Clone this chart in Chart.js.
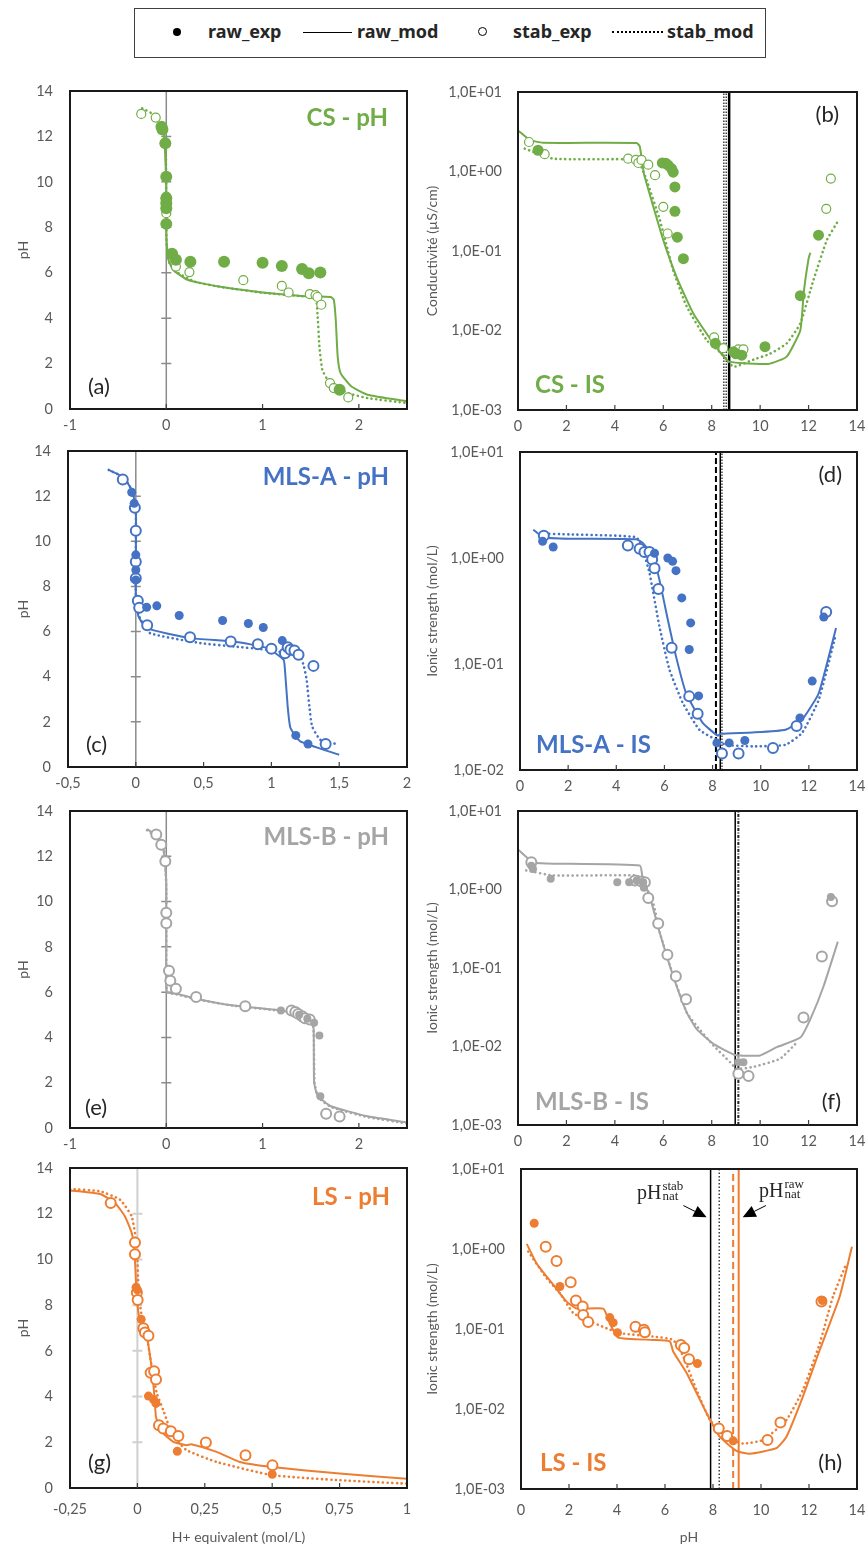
<!DOCTYPE html>
<html>
<head>
<meta charset="utf-8">
<script src="https://cdn.jsdelivr.net/npm/chart.js@4.4.1/dist/chart.umd.min.js"></script>
<style>
  body { margin: 0; background: #fff; width: 868px; height: 1546px; position: relative; overflow: hidden; }
  canvas { position: absolute; }
  #legend { position: absolute; left: 134px; top: 8px; width: 632px; height: 50px; box-sizing: border-box;
            border: 1.5px solid #404040; font-family: "Noto Sans", sans-serif; font-weight: bold; font-size: 18px; color: #262626; }
  #legend span { position: absolute; }
  #legend .txt { top: 10px; line-height: 24px; }
  .dot { left: 38px; top: 19px; width: 8px; height: 8px; border-radius: 50%; background: #000; }
  .ring { left: 343px; top: 18px; width: 7px; height: 7px; border-radius: 50%; border: 1.5px solid #000; }
  .solid { left: 168px; top: 23px; width: 49px; border-top: 1.5px solid #000; }
  .dots { left: 477px; top: 22px; width: 51px; border-top: 2px dotted #000; }
</style>
</head>
<body>
<div id="legend">
  <span class="dot"></span><span class="txt" style="left:73px">raw_exp</span>
  <span class="solid"></span><span class="txt" style="left:222px">raw_mod</span>
  <span class="ring"></span><span class="txt" style="left:378px">stab_exp</span>
  <span class="dots"></span><span class="txt" style="left:532px">stab_mod</span>
</div>
<script>
const GREEN = '#70AD47', BLUE = '#4472C4', GREY = '#A5A5A5', ORANGE = '#ED7D31';

// tick values
const phTicks = [0, 2, 4, 6, 8, 10, 12, 14];
const pHxTicks = [0, 2, 4, 6, 8, 10, 12, 14];
const logTicks3 = [1e-3, 1e-2, 1e-1, 1, 10];
const logTicks2 = [1e-2, 1e-1, 1, 10];
const csXTicks = [-1, 0, 1, 2];
const mlsaXTicks = [-0.5, 0, 0.5, 1, 1.5, 2];
const mlsbXTicks = [-1, 0, 1, 2];
const lsXTicks = [-0.25, 0, 0.25, 0.5, 0.75, 1];

// (a) CS - pH : [H+ equivalent, pH]
const aRawExp = [[-0.05,12.43],[-0.04,12.3],[-0.01,11.7],[0,10.23],[0,9.28],[0,9.06],[0,8.84],[0,8.15],[0.06,6.83],[0.10,6.57],[0.25,6.48],[0.60,6.48],[1.0,6.44],[1.2,6.3],[1.41,6.16],[1.48,5.98],[1.60,6.01],[1.80,0.85]];
const aStabExp = [[-0.26,12.99],[-0.11,12.83],[0,9.35],[0,8.62],[0.10,6.27],[0.24,6.03],[0.80,5.67],[1.20,5.42],[1.27,5.13],[1.49,5.06],[1.55,5.01],[1.57,4.93],[1.61,4.59],[1.70,1.14],[1.74,0.92],[1.89,0.51]];
const aRawMod = [[-0.04,12.5],[-0.02,12],[-0.01,11],[0,10],[0,8],[0.005,7.3],[0.02,6.6],[0.07,6.13],[0.22,5.69],[0.53,5.40],[1.0,5.13],[1.4,4.98],[1.71,4.93],[1.74,4.81],[1.76,3.93],[1.78,2.32],[1.81,1.58],[1.92,1.0],[2.09,0.63],[2.5,0.34]];
const aStabMod = [[-0.25,13.24],[-0.13,12.95],[-0.03,12.2],[-0.005,11.55],[0,8],[0.005,7.2],[0.03,6.45],[0.1,6.05],[0.3,5.6],[0.6,5.35],[1.0,5.12],[1.4,4.97],[1.55,4.88],[1.57,4.22],[1.59,2.76],[1.62,1.73],[1.68,1.25],[1.74,1.0],[1.9,0.68],[2.09,0.48],[2.5,0.26]];

// (b) CS - IS : [pH, conductivity]
const bRawExp = [[0.83,1.85],[5.96,1.28],[6.1,1.27],[6.2,1.2],[6.34,1.09],[6.41,0.98],[6.48,0.64],[6.48,0.316],[6.58,0.149],[6.83,0.08],[8.15,0.0069],[8.9,0.0054],[9.0,0.0051],[9.24,0.0049],[10.2,0.00625],[11.66,0.0274],[12.41,0.158]];
const bStabExp = [[0.455,2.35],[1.1,1.65],[4.55,1.45],[4.87,1.4],[4.97,1.28],[5.1,1.4],[5.38,1.22],[5.66,0.9],[6.0,0.359],[6.18,0.166],[8.1,0.0082],[8.48,0.006],[9.1,0.0058],[9.31,0.0058],[12.73,0.339],[12.92,0.815]];
const bRawMod = [[0.03,3.24],[0.48,2.5],[1.03,2.3],[4.9,2.28],[5.03,2.07],[5.2,0.94],[5.59,0.36],[6.0,0.137],[6.55,0.047],[7.24,0.0164],[8.07,0.0069],[8.69,0.0041],[9.17,0.0039],[10.34,0.0038],[11.1,0.0047],[11.66,0.0101],[11.8,0.03],[12.0,0.08],[12.07,0.095]];
const bStabMod = [[0.28,1.94],[1.45,1.45],[4.76,1.42],[5.03,1.26],[5.31,0.78],[5.86,0.245],[6.41,0.057],[6.97,0.02],[7.79,0.0076],[8.41,0.0051],[8.9,0.0035],[9.72,0.0043],[10.41,0.0051],[11.1,0.0069],[11.66,0.0123],[12.2,0.043],[12.76,0.138],[13.24,0.245]];
const bNat = [8.5, 8.6, 8.72];

// (c) MLS-A - pH
const cRawExp = [[-0.03,12.17],[-0.012,11.68],[0,9.4],[0,8.73],[0,8.29],[0.08,7.08],[0.155,7.14],[0.32,6.71],[0.64,6.49],[0.83,6.36],[0.94,6.18],[1.08,5.6],[1.18,1.40],[1.27,1.02]];
const cStabExp = [[-0.096,12.74],[-0.007,11.49],[0,10.47],[0,9.09],[0,8.36],[0.015,7.37],[0.025,7.05],[0.084,6.28],[0.40,5.75],[0.70,5.56],[0.90,5.44],[1.0,5.24],[1.10,5.04],[1.12,5.31],[1.14,5.19],[1.17,5.16],[1.20,4.97],[1.31,4.48],[1.40,1.02]];
const cRawMod = [[-0.2,13.16],[-0.09,12.83],[-0.03,12.27],[0,11.5],[0,7.55],[0.02,6.67],[0.08,6.15],[0.40,5.71],[0.72,5.56],[0.97,5.27],[1.09,4.75],[1.10,4.31],[1.12,2.68],[1.14,1.74],[1.21,1.15],[1.5,0.54]];
const cStabMod = [[-0.2,13.16],[-0.09,12.83],[-0.03,12.27],[0,11.5],[0,7.6],[0.03,6.6],[0.106,5.93],[0.475,5.49],[0.72,5.34],[0.97,5.19],[1.21,4.9],[1.24,4.45],[1.26,3.86],[1.28,2.68],[1.30,1.8],[1.36,1.21],[1.47,1.03]];

// (d) MLS-A - IS
const dRawExp = [[0.94,1.44],[1.38,1.27],[5.59,1.11],[6.14,1.0],[6.34,0.93],[6.48,0.76],[6.72,0.42],[7.09,0.244],[7.03,0.137],[7.42,0.05],[8.18,0.018],[8.69,0.018],[9.34,0.019],[11.63,0.031],[12.14,0.069],[12.62,0.277]];
const dStabExp = [[0.99,1.62],[4.48,1.31],[4.97,1.22],[5.17,1.14],[5.38,1.14],[5.49,0.97],[5.59,0.80],[5.75,0.51],[6.3,0.142],[7.03,0.0495],[7.38,0.034],[8.39,0.0143],[9.08,0.0143],[10.51,0.0161],[11.49,0.026],[12.72,0.31]];
const dRawMod = [[0.55,1.85],[0.97,1.57],[2.07,1.52],[4.83,1.5],[5.1,1.39],[5.52,1.04],[5.79,0.625],[6.14,0.263],[6.48,0.118],[6.9,0.053],[7.59,0.0278],[8.21,0.0211],[8.34,0.022],[9.66,0.0226],[11.03,0.024],[11.72,0.030],[12.41,0.053],[13.13,0.219]];
const dStabMod = [[0.83,1.7],[2.07,1.67],[4.83,1.57],[5.1,1.2],[5.38,0.72],[5.79,0.227],[6.21,0.0885],[6.76,0.043],[7.45,0.024],[8.14,0.0193],[8.55,0.0173],[9.66,0.0167],[11.03,0.0173],[11.72,0.0224],[12.41,0.046],[13.1,0.182]];
const dNat = [8.14, 8.32, 8.39];

// (e) MLS-B - pH
const eRawExp = [[1.19,5.19],[1.38,5.0],[1.465,4.82],[1.535,4.65],[1.59,4.09],[1.60,1.40]];
const eStabExp = [[-0.104,12.96],[-0.052,12.51],[-0.01,11.78],[0,9.51],[0,9.04],[0.028,6.94],[0.042,6.5],[0.10,6.15],[0.31,5.79],[0.82,5.38],[1.30,5.19],[1.34,5.12],[1.37,5.04],[1.41,4.94],[1.44,4.85],[1.49,4.79],[1.66,0.63],[1.80,0.51]];
const eRawMod = [[-0.2,13.2],[-0.1,12.9],[-0.03,12.3],[0,10.85],[0,7.1],[0.007,6.0],[0.11,5.93],[0.32,5.7],[0.70,5.41],[1.19,5.19],[1.5,4.9],[1.53,4.38],[1.535,2.03],[1.57,1.44],[1.71,0.96],[2.09,0.52],[2.5,0.25]];
const eStabMod = [[-0.2,13.15],[-0.1,12.85],[-0.02,12.2],[0,10.5],[0,7.0],[0.01,6.0],[0.11,5.9],[0.32,5.68],[0.70,5.4],[1.19,5.17],[1.5,4.88],[1.53,4.3],[1.54,2.0],[1.58,1.35],[1.71,0.93],[2.09,0.48],[2.5,0.2]];

// (f) MLS-B - IS
const fRawExp = [[0.55,2.0],[0.62,1.83],[1.35,1.37],[4.1,1.24],[4.59,1.24],[4.9,1.3],[5.17,1.24],[5.2,1.05],[9.1,0.0063],[9.31,0.0063],[12.92,0.8]];
const fStabExp = [[0.55,2.22],[4.83,1.3],[5.1,1.26],[5.24,1.24],[5.38,0.78],[5.79,0.37],[6.17,0.148],[6.52,0.0785],[6.94,0.04],[9.1,0.0045],[9.52,0.0042],[11.79,0.0234],[12.55,0.14],[12.97,0.71]];
const fRawMod = [[0.03,3.18],[0.62,2.22],[1.17,2.15],[5.03,2.02],[5.14,1.44],[5.45,0.8],[5.86,0.277],[6.41,0.0785],[6.97,0.027],[7.38,0.0166],[8.07,0.0108],[8.97,0.0078],[10.0,0.0077],[10.69,0.0098],[11.66,0.013],[12.07,0.0222],[12.62,0.0586],[13.21,0.217]];
const fStabMod = [[0.34,1.75],[1.45,1.51],[4.9,1.51],[5.17,1.3],[5.59,0.66],[5.86,0.28],[6.41,0.08],[6.97,0.027],[7.38,0.0183],[8.07,0.0103],[8.76,0.0063],[9.03,0.0052],[9.72,0.0055],[10.83,0.0070],[11.52,0.0113]];
const fNat = [8.97, 9.1];

// (g) LS - pH
const gRawExp = [[-0.005,8.78],[0,8.67],[0.014,7.38],[0.041,4.02],[0.06,3.87],[0.069,3.70],[0.148,1.61],[0.50,0.60]];
const gStabExp = [[-0.099,12.47],[-0.009,10.74],[-0.009,10.23],[-0.002,8.55],[0.001,8.23],[0.022,6.99],[0.028,6.8],[0.041,6.66],[0.049,5.04],[0.062,5.11],[0.069,4.75],[0.08,2.75],[0.096,2.6],[0.124,2.48],[0.152,2.27],[0.254,1.99],[0.401,1.43],[0.501,0.99]];
const gRawMod = [[-0.25,13.02],[-0.138,12.86],[-0.083,12.47],[-0.046,11.88],[-0.021,11.15],[-0.011,10.42],[-0.005,8.96],[0.004,7.64],[0.022,7.06],[0.035,6.62],[0.049,5.6],[0.059,4.57],[0.065,3.70],[0.069,3.11],[0.09,2.46],[0.133,2.02],[0.183,1.87],[0.20,1.91],[0.294,1.58],[0.38,1.14],[0.50,0.92],[0.75,0.63],[1.0,0.41]];
const gStabMod = [[-0.25,13.08],[-0.138,12.98],[-0.064,12.61],[-0.021,11.88],[-0.002,10.57],[0.004,8.67],[0.016,7.5],[0.035,6.62],[0.053,5.3],[0.072,4.14],[0.096,3.40],[0.109,2.97],[0.121,2.53],[0.146,2.09],[0.183,1.65],[0.294,1.14],[0.50,0.56],[0.75,0.34],[1.0,0.19]];

// (h) LS - IS
const hRawExp = [[0.55,2.1],[1.62,0.34],[3.70,0.139],[3.84,0.12],[4.02,0.09],[7.35,0.037],[8.84,0.004],[12.56,0.227]];
const hStabExp = [[1.03,1.07],[1.48,0.71],[2.07,0.385],[2.29,0.227],[2.57,0.191],[2.59,0.15],[2.80,0.122],[4.77,0.107],[5.12,0.098],[5.16,0.091],[6.66,0.063],[6.80,0.058],[7.0,0.042],[8.24,0.0057],[8.59,0.0046],[10.27,0.0041],[10.81,0.0068],[12.52,0.22]];
const hRawMod = [[0.24,1.16],[0.65,0.66],[1.35,0.356],[1.9,0.22],[2.32,0.18],[3.43,0.18],[3.70,0.118],[4.05,0.078],[5.51,0.073],[6.2,0.07],[6.34,0.0524],[6.9,0.0282],[7.73,0.0089],[8.28,0.0045],[8.98,0.0030],[9.53,0.00276],[10.64,0.00325],[11.06,0.0045],[11.75,0.0144],[12.45,0.055],[13.28,0.255],[13.79,1.07]];
const hStabMod = [[0.3,0.93],[1.07,0.43],[1.62,0.28],[2.18,0.158],[2.73,0.13],[3.57,0.102],[4.12,0.0887],[5.51,0.0805],[6.34,0.073],[6.76,0.0454],[7.31,0.0174],[7.87,0.0073],[8.56,0.0045],[9.25,0.0037],[10.09,0.0041],[11.06,0.0073],[11.75,0.0174],[12.45,0.0665],[13.0,0.255],[13.56,0.66]];
const hNat = [7.9, 8.26, 8.84, 9.07];

const TICK_FONT = { family: 'Lato, sans-serif', size: 14.5 };
const TITLE_FONT = { family: 'Lato, sans-serif', size: 14 };
const SERIF = '"Liberation Serif", serif';
const panels = {};

const pts = arr => arr.map(([x, y]) => ({ x, y }));
const fmtNum = v => String(v).replace('.', ',');
const fmtExp = v => {
    const e = Math.round(Math.log10(v));
    return '1,0E' + (e < 0 ? '-' : '+') + String(Math.abs(e)).padStart(2, '0');
};

const panelPlugin = {
    id: 'panel',
    beforeDatasetsDraw(chart) {
        const o = panels[chart.canvas.id];
        if (!o.zeroAxis) return;
        const { ctx, chartArea: a, scales: { x, y } } = chart;
        const zx = x.getPixelForValue(0);
        ctx.save();
        ctx.strokeStyle = o.zeroAxis;
        ctx.lineWidth = o.zeroWidth;
        ctx.beginPath();
        ctx.moveTo(zx, a.top);
        ctx.lineTo(zx, a.bottom);
        phTicks.slice(1, -1).forEach(v => {
            const py = y.getPixelForValue(v);
            ctx.moveTo(zx - 5, py);
            ctx.lineTo(zx + 5, py);
        });
        ctx.stroke();
        ctx.restore();
    },
    afterDatasetsDraw(chart) {
        const o = panels[chart.canvas.id];
        const { ctx, chartArea: a, scales: { x, y } } = chart;
        ctx.save();
        // frame
        ctx.strokeStyle = '#1a1a1a';
        ctx.lineWidth = 2;
        ctx.strokeRect(a.left, a.top, a.right - a.left, a.bottom - a.top);
        // inner ticks on x axis
        ctx.lineWidth = 1.2;
        ctx.strokeStyle = '#404040';
        ctx.beginPath();
        o.xTicks.forEach(v => {
            const px = x.getPixelForValue(v);
            if (px <= a.left + 1 || px >= a.right - 1) return;
            ctx.moveTo(px, a.bottom);
            ctx.lineTo(px, a.bottom - 5);
        });
        ctx.stroke();
        // panel texts
        o.texts.forEach(t => {
            ctx.font = (t.bold ? 'bold ' : '') + t.size + 'px Lato, sans-serif';
            ctx.fillStyle = t.color;
            ctx.textAlign = t.align;
            ctx.textBaseline = 'middle';
            const tx = t.ax ? a.right + t.dx : a.left + t.dx;
            const ty = t.ay ? a.bottom + t.dy : a.top + t.dy;
            ctx.fillText(t.text, tx, ty);
        });
        // pH_nat annotations
        (o.annot || []).forEach(n => {
            const s = n.side;
            const tip = { x: x.getPixelForValue(n.x) + s * 4, y: y.getPixelForValue(n.y) };
            const len = Math.hypot(1, 0.5);
            const ux = -s / len, uy = 0.5 / len;
            const base = { x: tip.x - ux * 13, y: tip.y - uy * 13 };
            const tail = { x: base.x - ux * 13, y: base.y - uy * 13 };
            ctx.fillStyle = '#000';
            ctx.strokeStyle = '#000';
            ctx.lineWidth = 1;
            ctx.beginPath();
            ctx.moveTo(tail.x, tail.y);
            ctx.lineTo(base.x, base.y);
            ctx.stroke();
            ctx.beginPath();
            ctx.moveTo(tip.x, tip.y);
            ctx.lineTo(base.x + uy * 6, base.y - ux * 6);
            ctx.lineTo(base.x - uy * 6, base.y + ux * 6);
            ctx.closePath();
            ctx.fill();
            ctx.textAlign = 'left';
            ctx.textBaseline = 'alphabetic';
            ctx.fillStyle = '#262626';
            ctx.font = '20px ' + SERIF;
            const wPH = ctx.measureText('pH').width;
            ctx.font = '13px ' + SERIF;
            const wS = Math.max(ctx.measureText(n.sup).width, ctx.measureText('nat').width);
            let left, base0;
            if (s < 0) { left = tail.x - 1 - wPH - wS; base0 = tail.y - 7; }
            else { left = tail.x - 7; base0 = tail.y - 9; }
            ctx.font = '20px ' + SERIF;
            ctx.fillText('pH', left, base0);
            ctx.font = '13px ' + SERIF;
            ctx.fillText(n.sup, left + wPH + 1, base0 - 9);
            ctx.fillText('nat', left + wPH + 1, base0 + 1);
        });
        ctx.restore();
    }
};

function makePanel(id, box, o) {
    const left = box.l < 430 ? 0 : 418;
    const yw = box.l - left;
    const pt = 14, pr = 11;
    const xh = o.xTitle ? 1546 - box.b : 32;
    const cv = document.createElement('canvas');
    cv.id = id;
    cv.width = box.r - left + pr;
    cv.height = box.b - box.t + pt + xh;
    cv.style.left = left + 'px';
    cv.style.top = (box.t - pt) + 'px';
    document.body.appendChild(cv);
    panels[id] = o;

    const datasets = [];
    o.vlines.forEach(v => datasets.push({
        data: [{ x: v.x, y: o.yMin }, { x: v.x, y: o.yMax }],
        showLine: true, borderColor: v.color, borderWidth: v.width,
        borderDash: v.dash || [], pointRadius: 0, order: 6
    }));
    datasets.push({
        label: 'raw_mod', data: pts(o.rawMod), showLine: true, borderColor: o.color,
        borderWidth: 2, pointRadius: 0, tension: 0.15, order: 4
    });
    datasets.push({
        label: 'stab_mod', data: pts(o.stabMod), showLine: true, borderColor: o.color,
        borderWidth: 2.6, borderDash: [0.1, 4.6], borderCapStyle: 'round', pointRadius: 0, tension: 0.15, order: 3
    });
    datasets.push({
        label: 'stab_exp', data: pts(o.stabExp), pointRadius: o.stabR, pointBackgroundColor: '#fff',
        pointBorderColor: o.color, pointBorderWidth: o.stabBW, order: 2
    });
    datasets.push({
        label: 'raw_exp', data: pts(o.rawExp), pointRadius: o.rawR, pointBackgroundColor: o.color,
        pointBorderColor: o.color, pointBorderWidth: 0, order: 1
    });

    new Chart(cv, {
        type: 'scatter',
        data: { datasets },
        options: {
            responsive: false,
            animation: false,
            devicePixelRatio: 1,
            layout: { padding: { left: 0, top: pt, right: pr, bottom: 0 } },
            plugins: { legend: { display: false }, tooltip: { enabled: false } },
            scales: {
                x: {
                    type: 'linear', position: 'bottom', min: o.xMin, max: o.xMax,
                    afterBuildTicks: s => { s.ticks = o.xTicks.map(v => ({ value: v })); },
                    afterFit: s => { s.height = xh; s.paddingLeft = 0; s.paddingRight = 0; },
                    grid: { display: false, drawTicks: false },
                    border: { display: false },
                    ticks: { padding: o.xTitle ? 13 : 8, font: TICK_FONT, color: '#595959', maxRotation: 0, autoSkip: false, callback: v => fmtNum(v) },
                    title: o.xTitle
                        ? { display: true, text: o.xTitle, font: TITLE_FONT, color: '#595959', padding: { top: 0, bottom: 0 } }
                        : { display: false }
                },
                y: {
                    type: o.yLog ? 'logarithmic' : 'linear', min: o.yMin, max: o.yMax,
                    afterBuildTicks: s => { s.ticks = o.yTicks.map(v => ({ value: v })); },
                    afterFit: s => { s.width = yw; s.paddingTop = 0; s.paddingBottom = 0; },
                    grid: { display: false, drawTicks: false },
                    border: { display: false },
                    ticks: { padding: left === 0 ? 17 : 16, font: TICK_FONT, color: '#595959', autoSkip: false,
                             callback: v => o.yLog ? fmtExp(v) : String(v) },
                    title: { display: true, text: o.yTitle, font: TITLE_FONT, color: '#595959',
                             padding: { top: left === 0 ? 15 : 6, bottom: 0 } }
                }
            }
        },
        plugins: [panelPlugin]
    });
}

const phPanel = (color, xMin, xMax, xTicks, rawExp, stabExp, rawMod, stabMod, extra) => Object.assign({
    color, xMin, xMax, xTicks, yMin: 0, yMax: 14, yTicks: phTicks, yLog: false, yTitle: 'pH',
    rawExp, stabExp, rawMod, stabMod, vlines: [], zeroAxis: '#8c8c8c', zeroWidth: 1.5,
    rawR: 4.5, stabR: 5, stabBW: 2
}, extra);

const isPanel = (color, yMin, yTicks, yTitle, rawExp, stabExp, rawMod, stabMod, extra) => Object.assign({
    color, xMin: 0, xMax: 14, xTicks: pHxTicks, yMin, yMax: 10, yTicks, yLog: true, yTitle,
    rawExp, stabExp, rawMod, stabMod, vlines: [], rawR: 4.5, stabR: 5, stabBW: 2
}, extra);

const txt = (text, color, bold, size, ax, dx, ay, dy, align) => ({ text, color, bold, size, ax, dx, ay, dy, align });

makePanel('a', { l: 70, t: 91, r: 407, b: 409 }, phPanel(GREEN, -1, 2.5, csXTicks, aRawExp, aStabExp, aRawMod, aStabMod, {
    rawR: 6, stabR: 4.5, stabBW: 1.2,
    texts: [txt('CS - pH', GREEN, true, 24, 1, -19, 0, 27, 'right'), txt('(a)', '#262626', false, 22, 0, 18, 1, -22, 'left')]
}));
makePanel('b', { l: 518, t: 92, r: 857, b: 410 }, isPanel(GREEN, 1e-3, logTicks3, 'Conductivité (µS/cm)', bRawExp, bStabExp, bRawMod, bStabMod, {
    rawR: 5.5, stabR: 4.5, stabBW: 1.2,
    vlines: [{ x: bNat[0], color: '#404040', width: 1.5, dash: [1.5, 1.5] }, { x: bNat[1], color: '#404040', width: 1.5, dash: [1.5, 1.5] }, { x: bNat[2], color: '#000', width: 2.5 }],
    texts: [txt('(b)', '#262626', false, 22, 1, -18, 0, 23, 'right'), txt('CS - IS', GREEN, true, 24, 0, 17, 1, -25, 'left')]
}));
makePanel('c', { l: 68, t: 451, r: 407, b: 767 }, phPanel(BLUE, -0.5, 2, mlsaXTicks, cRawExp, cStabExp, cRawMod, cStabMod, {
    texts: [txt('MLS-A - pH', BLUE, true, 24, 1, -18, 0, 26, 'right'), txt('(c)', '#262626', false, 22, 0, 18, 1, -22, 'left')]
}));
makePanel('d', { l: 520, t: 452, r: 857, b: 770 }, isPanel(BLUE, 1e-2, logTicks2, 'Ionic strength (mol/L)', dRawExp, dStabExp, dRawMod, dStabMod, {
    vlines: [{ x: dNat[0], color: '#000', width: 2, dash: [6, 3] }, { x: dNat[1], color: '#000', width: 1.5 }, { x: dNat[2], color: '#404040', width: 1.5, dash: [1.5, 1.5] }],
    texts: [txt('(d)', '#262626', false, 22, 1, -15, 0, 23, 'right'), txt('MLS-A - IS', BLUE, true, 24, 0, 16, 1, -25, 'left')]
}));
makePanel('e', { l: 70, t: 811, r: 407, b: 1128 }, phPanel(GREY, -1, 2.5, mlsbXTicks, eRawExp, eStabExp, eRawMod, eStabMod, {
    rawR: 4, stabR: 5,
    texts: [txt('MLS-B - pH', GREY, true, 24, 1, -18, 0, 26, 'right'), txt('(e)', '#262626', false, 22, 0, 15, 1, -20, 'left')]
}));
makePanel('f', { l: 518, t: 811, r: 857, b: 1125 }, isPanel(GREY, 1e-3, logTicks3, 'Ionic strength (mol/L)', fRawExp, fStabExp, fRawMod, fStabMod, {
    rawR: 4, stabR: 5,
    vlines: [{ x: fNat[0], color: '#000', width: 1.5 }, { x: fNat[1], color: '#262626', width: 2, dash: [3, 1.5, 1, 1.5] }],
    texts: [txt('MLS-B - IS', GREY, true, 24, 0, 17, 1, -23, 'left'), txt('(f)', '#262626', false, 22, 1, -16, 1, -23, 'right')]
}));
makePanel('g', { l: 70, t: 1168, r: 407, b: 1488 }, phPanel(ORANGE, -0.25, 1, lsXTicks, gRawExp, gStabExp, gRawMod, gStabMod, {
    xTitle: 'H+ equivalent (mol/L)', zeroAxis: '#d0d0d0', zeroWidth: 2,
    texts: [txt('LS - pH', ORANGE, true, 24, 1, -17, 0, 29, 'right'), txt('(g)', '#262626', false, 22, 0, 18, 1, -25, 'left')]
}));
makePanel('h', { l: 521, t: 1169, r: 857, b: 1489 }, isPanel(ORANGE, 1e-3, logTicks3, 'Ionic strength (mol/L)', hRawExp, hStabExp, hRawMod, hStabMod, {
    xTitle: 'pH', rawR: 4.5,
    vlines: [{ x: hNat[0], color: '#000', width: 1.5 }, { x: hNat[1], color: '#404040', width: 1.5, dash: [1.5, 2] },
             { x: hNat[2], color: ORANGE, width: 2, dash: [7, 4] }, { x: hNat[3], color: ORANGE, width: 2 }],
    annot: [{ x: hNat[0], y: 2.5, sup: 'stab', side: -1 }, { x: hNat[3], y: 2.5, sup: 'raw', side: 1 }],
    texts: [txt('LS - IS', ORANGE, true, 24, 0, 19, 1, -26, 'left'), txt('(h)', '#262626', false, 22, 1, -15, 1, -26, 'right')]
}));
</script>
</body>
</html>
